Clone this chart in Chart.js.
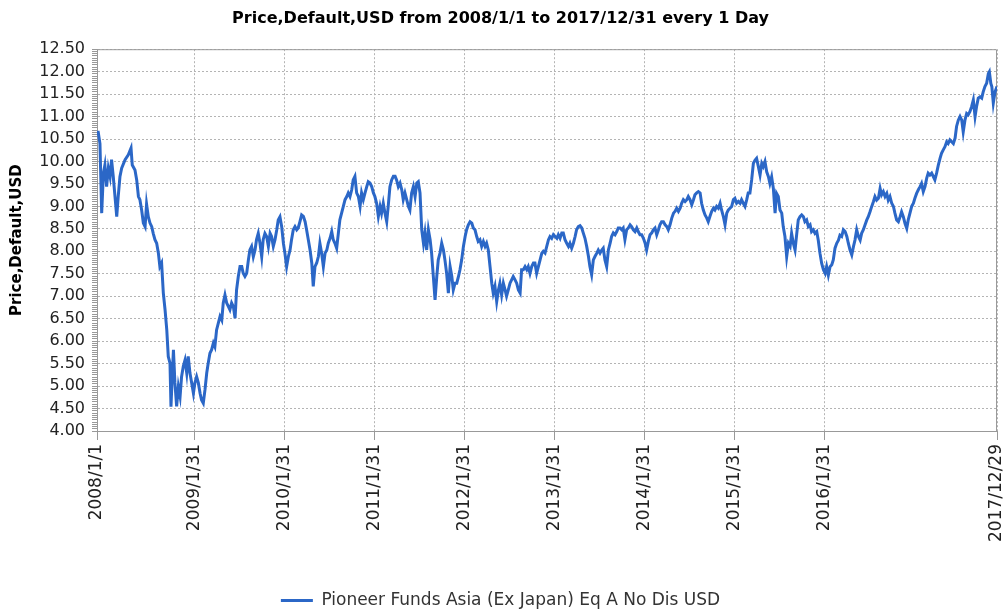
<!DOCTYPE html>
<html><head><meta charset="utf-8">
<script src="https://cdn.jsdelivr.net/npm/chart.js@4/dist/chart.umd.min.js"></script>
<style>html,body{margin:0;padding:0;background:#fff;overflow:hidden}</style>
</head><body>
<canvas id="c" width="1003" height="609"></canvas>
<script>
const chartTitle = 'Price,Default,USD from 2008/1/1 to 2017/12/31 every 1 Day';
const seriesName = 'Pioneer Funds Asia (Ex Japan) Eq A No Dis USD';
const yAxisTitle = 'Price,Default,USD';
const xTickLabels = ['2008/1/1','2009/1/31','2010/1/31','2011/1/31','2012/1/31','2013/1/31','2014/1/31','2015/1/31','2016/1/31','2017/12/29'];
const yTickLabels = ['4.00','4.50','5.00','5.50','6.00','6.50','7.00','7.50','8.00','8.50','9.00','9.50','10.00','10.50','11.00','11.50','12.00','12.50'];
// days since 2008-01-01
const dayOffsets = [0,5,12,19,26,32,39,46,53,59,66,73,80,86,93,100,114,127,138,143,154,161,168,174,181,188,195,201,208,215,222,228,235,242,249,255,262,269,276,283,289,296,300,305,310,316,323,330,337,343,350,357,364,370,377,384,391,397,404,411,418,424,431,438,445,451,458,465,472,478,485,492,499,506,512,519,526,533,539,546,553,560,566,573,580,587,593,600,607,614,620,627,634,641,647,654,661,668,674,681,688,695,702,708,715,722,729,735,742,749,756,762,769,776,783,789,796,803,
810,816,823,830,837,844,850,857,864,871,877,884,891,898,904,911,918,925,932,938,945,952,958,965,972,979,985,992,999,1006,1013,1019,1026,1033,1039,1046,1053,1060,1067,1073,1080,1087,1094,1100,1107,1114,1121,1127,1134,1141,1148,1154,1161,1168,1175,1181,1188,1195,1202,1209,1215,1222,1229,1236,1242,1249,1256,1263,1269,1276,1283,1290,1297,1303,1310,1317,1324,1330,1337,1344,1351,1357,1364,1371,1378,1384,1391,1398,1405,1411,1418,1425,1432,1439,1445,1452,1459,1466,1472,1479,1486,1493,1499,1506,1513,1520,1526,1533,1540,1546,1553,1560,1567,1574,1580,1587,1594,1601,1607,1614,1621,1628,1634,1641,1648,1655,1661,1668,1675,1682,1688,1695,1702,1709,1716,1722,1729,1736,1743,1749,1756,1763,1770,1776,1783,1790,1797,1804,1810,1817,1824,1831,1837,1844,1851,1858,1865,1871,1878,1885,1891,1898,1905,1912,1918,1925,1932,1939,1945,1952,1959,1966,1972,1979,1986,1993,1999,2006,2013,2020,2027,2033,2040,2047,2053,2060,2067,2074,2081,2087,2094,2101,2108,2114,2121,2128,2134,2141,2148,2155,2162,2168,2175,2182,2189,2195,2202,2209,2216,2223,2229,2236,2243,2250,2256,2263,2270,2277,2283,2290,2297,2304,2311,2317,2324,2331,2338,2344,2351,2358,2365,2371,2378,2385,2392,2398,2405,2412,2419,2425,2432,2439,2446,2452,2459,2466,2473,2479,2486,2493,2500,2506,2513,2520,2527,2533,2540,2547,2554,2560,2567,2574,2581,2587,2594,2601,2608,2614,2621,2628,2635,2641,2648,2655,2662,2669,2675,2682,2689,2696,2702,2709,2716,2723,2729,2736,2743,2750,2756,2763,2770,2777,2783,2790,2797,2804,2811,2817,2824,2831,2838,2844,2851,2858,2865,2871,2878,2885,2892,2898,2905,2912,2919,2925,2932,2939,2946,2953,2959,2966,2973,2980,2986,2993,3000,3007,3013,3020,3027,3034,3041,3047,3054,3061,3068,3074,3081,3088,3095,3101,3108,3115,3122,3128,3135,3142,3149,3155,3162,3169,3176,3182,3189,3196,3203,3209,3216,3223,3230,3236,3243,3250,3257,3263,3270,3277,3284,3290,3297,3304,3311,3317,3324,3331,3338,3344,3351,3358,3365,3371,3378,3385,3392,3398,3405,3412,3419,3425,3432,3439,3446,3452,3459,3466,3473,3480,3486,3493,3500,3507,3513,3520,3527,3533,3540,3547,3554,3561,3567,3574,3581,3588,3594,3601,3608,3615,3619,3625,3629,3635,3642,3650];
const prices = [10.65,10.65,10.40,8.85,9.74,9.92,9.44,9.85,9.66,10.04,9.66,9.22,8.77,9.22,9.66,9.85,10.04,10.15,10.30,9.92,9.81,9.59,9.22,9.15,8.92,8.63,8.55,9.05,8.77,8.63,8.55,8.40,8.26,8.18,7.96,7.66,7.74,7.07,6.70,6.25,5.66,5.51,4.54,5.21,5.81,5.07,4.55,4.99,4.77,5.21,5.44,5.58,5.29,5.66,5.29,5.07,4.84,5.07,5.21,5.07,4.84,4.69,4.62,4.92,5.29,5.51,5.73,5.81,5.96,5.88,6.25,6.40,6.55,6.47,6.85,7.03,6.85,6.77,6.70,6.85,6.77,6.51,7.14,7.44,7.66,7.66,7.51,7.44,7.51,7.81,8.03,8.11,7.88,8.03,8.26,8.40,8.18,7.88,8.26,8.40,8.33,8.11,8.40,8.33,8.11,8.26,8.48,8.70,8.77,8.55,8.18,7.96,7.66,7.88,8.03,8.26,8.48,8.55,
8.48,8.52,8.66,8.81,8.78,8.66,8.48,8.26,8.03,7.74,7.22,7.66,7.74,7.89,8.18,7.96,7.66,7.96,8.03,8.18,8.29,8.44,8.26,8.18,8.07,8.41,8.70,8.85,9.00,9.15,9.22,9.30,9.22,9.37,9.59,9.67,9.30,9.22,9.00,9.30,9.15,9.30,9.44,9.55,9.52,9.44,9.30,9.22,9.07,8.78,9.00,8.85,9.07,8.85,8.66,9.00,9.44,9.59,9.67,9.67,9.59,9.44,9.52,9.37,9.15,9.30,9.15,9.00,8.92,9.30,9.44,9.22,9.52,9.55,9.30,8.48,8.18,8.41,8.03,8.48,8.26,7.96,7.44,6.92,7.44,7.81,7.96,8.18,8.03,7.81,7.51,7.07,7.66,7.44,7.14,7.29,7.29,7.44,7.59,7.81,8.11,8.33,8.48,8.59,8.66,8.63,8.52,8.48,8.33,8.22,8.26,8.11,8.22,8.11,8.18,8.03,7.66,7.29,7.07,7.22,6.88,7.14,7.29,7.03,7.29,7.14,7.00,7.14,7.29,7.37,7.44,7.37,7.29,7.14,7.07,7.59,7.59,7.66,7.59,7.66,7.51,7.66,7.74,7.74,7.51,7.66,7.81,7.96,8.00,7.96,8.11,8.26,8.33,8.29,8.37,8.33,8.29,8.37,8.29,8.41,8.41,8.26,8.18,8.11,8.18,8.07,8.18,8.33,8.48,8.55,8.57,8.52,8.41,8.29,8.11,7.89,7.66,7.48,7.81,7.89,7.96,8.03,7.96,8.03,8.07,7.81,7.66,8.03,8.18,8.33,8.41,8.37,8.44,8.52,8.52,8.48,8.52,8.26,8.48,8.52,8.59,8.55,8.48,8.44,8.52,8.44,8.37,8.37,8.29,8.18,8.03,8.22,8.37,8.41,8.48,8.52,8.37,8.48,8.59,8.66,8.66,8.59,8.55,8.48,8.59,8.74,8.85,8.89,8.96,8.89,8.96,9.07,9.15,9.11,9.15,9.22,9.15,9.04,9.15,9.26,9.30,9.33,9.30,9.07,8.92,8.81,8.74,8.66,8.78,8.89,8.96,8.92,9.00,8.96,9.07,8.92,8.78,8.59,8.85,8.92,8.96,9.00,9.15,9.18,9.07,9.11,9.07,9.15,9.07,9.00,9.15,9.30,9.30,9.59,9.96,10.03,10.07,9.89,9.70,9.96,9.89,10.00,9.77,9.66,9.51,9.66,9.40,8.85,9.29,9.22,8.92,8.85,8.55,8.33,7.88,8.18,8.11,8.40,8.18,8.03,8.40,8.70,8.77,8.81,8.77,8.66,8.70,8.55,8.59,8.44,8.48,8.40,8.44,8.25,7.96,7.73,7.59,7.51,7.66,7.47,7.66,7.70,7.81,8.07,8.18,8.25,8.36,8.33,8.48,8.44,8.33,8.18,8.03,7.92,8.11,8.25,8.48,8.33,8.25,8.40,8.48,8.59,8.70,8.77,8.88,9.00,9.11,9.22,9.14,9.18,9.40,9.26,9.33,9.22,9.29,9.14,9.22,9.07,9.00,8.85,8.70,8.66,8.77,8.88,8.77,8.62,8.51,8.70,8.85,9.00,9.07,9.18,9.29,9.37,9.44,9.51,9.33,9.44,9.63,9.74,9.70,9.74,9.66,9.59,9.74,9.92,10.07,10.18,10.26,10.33,10.44,10.40,10.48,10.44,10.40,10.52,10.78,10.92,11.00,10.92,10.66,10.92,11.07,11.04,11.11,11.22,11.37,11.00,11.22,11.41,11.44,11.41,11.55,11.67,11.74,11.96,12.00,11.74,11.67,11.30,11.55,11.67];

const base = Date.UTC(2008, 0, 1);
const toDay = s => { const p = s.split('/').map(Number); return Math.round((Date.UTC(p[0], p[1]-1, p[2]) - base) / 86400000); };
const xTickDays = xTickLabels.map(toDay);
const yMajor = yTickLabels.map(parseFloat);
const isMajor = v => yMajor.some(m => Math.abs(m - v) < 1e-6);

const frame = {
  id: 'frame',
  beforeDatasetsDraw(chart) {
    const {ctx, chartArea: a} = chart;
    ctx.save();
    ctx.strokeStyle = '#9a9a9a';
    ctx.lineWidth = 1;
    ctx.beginPath();
    ctx.moveTo(a.left, a.top + 0.5);
    ctx.lineTo(a.right - 0.5, a.top + 0.5);
    ctx.lineTo(a.right - 0.5, a.bottom);
    ctx.stroke();
    ctx.restore();
  }
};

const lineColor = '#2b67c7';
new Chart(document.getElementById('c'), {
  type: 'line',
  data: {
    datasets: [{
      label: seriesName,
      data: dayOffsets.map((d, i) => ({x: d, y: prices[i]})),
      borderColor: lineColor,
      backgroundColor: lineColor,
      borderWidth: 3,
      pointRadius: 0,
      tension: 0
    }]
  },
  options: {
    responsive: false,
    animation: false,
    layout: {padding: {left: 4, right: 6, top: 0, bottom: -10}},
    plugins: {
      title: {
        display: true, text: chartTitle, color: '#000',
        font: {family: 'DejaVu Sans', size: 16, weight: 'bold'},
        padding: {top: 9, bottom: 21}
      },
      legend: {
        position: 'bottom',
        labels: {
          usePointStyle: true, pointStyle: 'line', pointStyleWidth: 32,
          padding: 6, color: '#333',
          font: {family: 'DejaVu Sans', size: 17}
        }
      },
      tooltip: {enabled: false}
    },
    scales: {
      x: {
        type: 'linear', min: 0, max: 3650,
        afterBuildTicks: s => { s.ticks = xTickDays.map(v => ({value: v})); },
        afterFit: s => { s.height = 155; s.paddingLeft = 0; s.paddingRight = 0; },
        ticks: {
          autoSkip: false, maxRotation: 90, minRotation: 90, padding: 4,
          color: '#222', font: {family: 'DejaVu Sans', size: 17},
          callback: (v, i) => xTickLabels[i]
        },
        grid: {color: '#b4b4b4', tickColor: '#999', tickLength: 9},
        border: {color: '#999', dash: [2, 2]}
      },
      y: {
        min: 4, max: 12.5,
        afterBuildTicks: s => {
          const t = [];
          for (let k = 0; k <= 170; k++) t.push({value: Math.round((4 + k * 0.05) * 100) / 100});
          s.ticks = t;
        },
        afterFit: s => { s.width = 93; },
        ticks: {
          autoSkip: false, padding: 7, color: '#222',
          font: {family: 'DejaVu Sans', size: 16},
          callback: v => { const i = yMajor.findIndex(m => Math.abs(m - v) < 1e-6); return i >= 0 ? yTickLabels[i] : ''; }
        },
        grid: {
          color: c => (c.tick && isMajor(c.tick.value)) ? '#b4b4b4' : 'rgba(0,0,0,0)',
          tickColor: '#999', tickLength: 5
        },
        border: {color: '#999', dash: [2, 2]},
        title: {
          display: true, text: yAxisTitle, color: '#000',
          font: {family: 'DejaVu Sans', size: 15, weight: 'bold'},
          padding: {top: 4, bottom: 0}
        }
      }
    }
  },
  plugins: [frame]
});
</script>
</body></html>
